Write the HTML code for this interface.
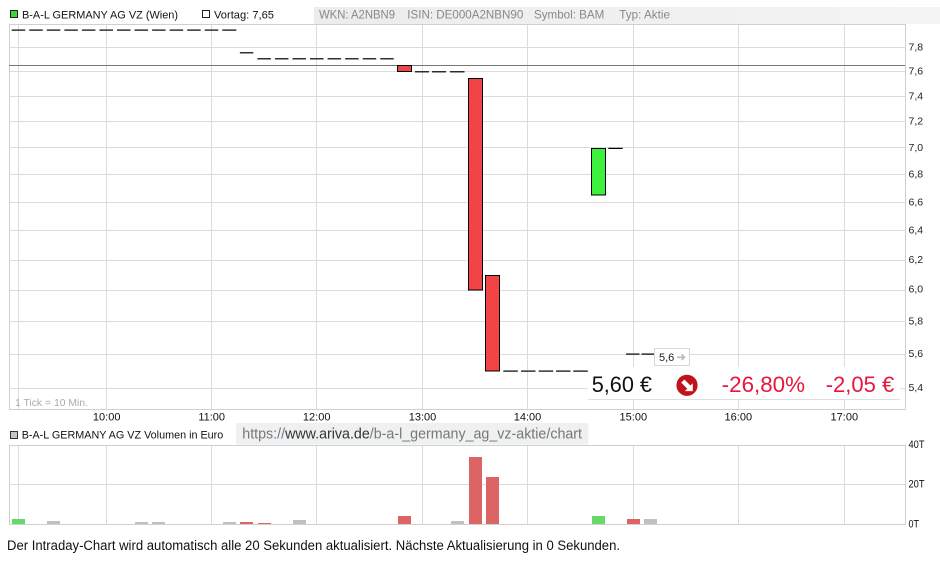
<!DOCTYPE html>
<html><head><meta charset="utf-8"><style>
html,body{margin:0;padding:0;background:#fff;width:940px;height:563px;overflow:hidden}
svg{display:block}
text{font-family:"Liberation Sans",Arial,sans-serif}
</style></head><body>
<svg width="940" height="563" viewBox="0 0 940 563" xmlns="http://www.w3.org/2000/svg">
<defs>
<linearGradient id="hg" x1="0" x2="1" y1="0" y2="0"><stop offset="0" stop-color="#ececec"/><stop offset="1" stop-color="#f4f4f4"/></linearGradient>
</defs>
<!-- header -->
<rect x="314" y="7" width="626" height="17" fill="url(#hg)"/>
<rect x="10.5" y="10.5" width="7" height="7" fill="#3ed43e" stroke="#222" stroke-width="1"/>
<text x="22" y="18.3" font-size="11" fill="#111" textLength="156" lengthAdjust="spacingAndGlyphs">B-A-L GERMANY AG VZ (Wien)</text>
<rect x="202.5" y="10.5" width="7" height="7" fill="#fff" stroke="#222" stroke-width="1"/>
<text x="214" y="18.3" font-size="11" fill="#111" textLength="60" lengthAdjust="spacingAndGlyphs">Vortag: 7,65</text>
<g font-size="12" fill="#888">
<text x="319" y="18.5" textLength="76" lengthAdjust="spacingAndGlyphs">WKN: A2NBN9</text>
<text x="407.3" y="18.5" textLength="116" lengthAdjust="spacingAndGlyphs">ISIN: DE000A2NBN90</text>
<text x="534" y="18.5" textLength="70.3" lengthAdjust="spacingAndGlyphs">Symbol: BAM</text>
<text x="619.3" y="18.5" textLength="50.7" lengthAdjust="spacingAndGlyphs">Typ: Aktie</text>
</g>

<!-- main grid -->
<g stroke="#dcdcdc" stroke-width="1" fill="none">
<path d="M9 47.5H905M9 71.5H905M9 96.5H905M9 121.5H905M9 147.5H905M9 174.5H905M9 202.5H905M9 230.5H905M9 260.5H905M9 290.5H905M9 321.5H905M9 354.5H905M9 388.5H905"/>
<path d="M18.5 24V409M106.5 24V409M211.5 24V409M316.5 24V409M422.5 24V409M527.5 24V409M633.5 24V409M738.5 24V409M844.5 24V409"/>
</g>
<g stroke="#d0d0d0" stroke-width="1" fill="none">
<path d="M9.5 24V409.5H905.5V24M9 24.5H905"/>
</g>
<!-- previous close line -->
<path d="M9 65.5H905" stroke="#777" stroke-width="1"/>

<!-- dashes -->
<g fill="#000">
<rect x="11.7" y="29.5" width="13.5" height="1.2"/>
<rect x="29.25" y="29.5" width="13.5" height="1.2"/>
<rect x="46.8" y="29.5" width="13.5" height="1.2"/>
<rect x="64.35" y="29.5" width="13.5" height="1.2"/>
<rect x="81.9" y="29.5" width="13.5" height="1.2"/>
<rect x="99.45" y="29.5" width="13.5" height="1.2"/>
<rect x="117" y="29.5" width="13.5" height="1.2"/>
<rect x="134.55" y="29.5" width="13.5" height="1.2"/>
<rect x="152.1" y="29.5" width="13.5" height="1.2"/>
<rect x="169.65" y="29.5" width="13.5" height="1.2"/>
<rect x="187.2" y="29.5" width="13.5" height="1.2"/>
<rect x="204.75" y="29.5" width="13.5" height="1.2"/>
<rect x="222.3" y="29.5" width="14" height="1.2"/>
<rect x="239.85" y="52.2" width="13.5" height="1.2"/>
<rect x="257.4" y="58.2" width="13.5" height="1.2"/>
<rect x="274.95" y="58.2" width="13.5" height="1.2"/>
<rect x="292.5" y="58.2" width="13.5" height="1.2"/>
<rect x="310.05" y="58.2" width="13.5" height="1.2"/>
<rect x="327.6" y="58.2" width="13.5" height="1.2"/>
<rect x="345.15" y="58.2" width="13.5" height="1.2"/>
<rect x="362.7" y="58.2" width="13.5" height="1.2"/>
<rect x="380.25" y="58.2" width="13.5" height="1.2"/>
<rect x="415" y="71.2" width="14" height="1.2"/>
<rect x="432" y="71.2" width="14" height="1.2"/>
<rect x="450" y="71.2" width="14.5" height="1.2"/>
<rect x="503.3" y="370.5" width="14.5" height="1.2"/>
<rect x="521" y="370.5" width="14.5" height="1.2"/>
<rect x="538.7" y="370.5" width="14.5" height="1.2"/>
<rect x="556" y="370.5" width="14.5" height="1.2"/>
<rect x="573.3" y="370.5" width="14.5" height="1.2"/>
<rect x="608.3" y="147.8" width="14.4" height="1.2"/>
<rect x="626" y="353.5" width="13.5" height="1.2"/>
<rect x="641.5" y="353.5" width="13" height="1.2"/>
</g>
<!-- candles -->
<g stroke="#000" stroke-width="1">
<rect x="397.5" y="65.5" width="14" height="6" fill="#f24444"/>
<rect x="468.5" y="78.5" width="14" height="211.5" fill="#f24444"/>
<rect x="485.5" y="275.5" width="14" height="95.5" fill="#f24444"/>
<rect x="591.5" y="148.5" width="14" height="46.5" fill="#3ef03e"/>
</g>

<!-- 5,6 marker box -->
<rect x="654.5" y="348.5" width="35" height="17" fill="#fff" stroke="#d8d8d8" stroke-width="1"/>
<text x="659" y="361" font-size="11" fill="#222">5,6</text>
<path d="M677 357.3H684M681.5 354.5L684.5 357.3L681.5 360" stroke="#bbb" stroke-width="1.6" fill="none"/>

<!-- price box -->
<rect x="588" y="367" width="312" height="32" fill="#fff"/>
<path d="M588 399.5H900" stroke="#e0e0e0" stroke-width="1"/>
<text x="591.7" y="392" font-size="22" fill="#111" textLength="60.3" lengthAdjust="spacingAndGlyphs">5,60 €</text>
<circle cx="687" cy="385.3" r="10.6" fill="#c0141c"/>
<polygon transform="translate(687 385.3) scale(1.05)" fill="#fff" points="-5.5,-2.5 0.25,3.25 -2,5.5 5.5,5.5 5.5,-2 3.25,0.25 -2.5,-5.5"/>
<text x="721.7" y="392" font-size="22" fill="#e8163c" textLength="83.3" lengthAdjust="spacingAndGlyphs">-26,80%</text>
<text x="825.7" y="392" font-size="22" fill="#e8163c" textLength="68.6" lengthAdjust="spacingAndGlyphs">-2,05 €</text>

<text x="15" y="406" font-size="10" fill="#aaa" textLength="73" lengthAdjust="spacingAndGlyphs">1 Tick = 10 Min.</text>

<!-- y labels -->
<g font-size="10.5" fill="#222" dominant-baseline="central">
<text x="908.5" y="47.5">7,8</text>
<text x="908.5" y="71.7">7,6</text>
<text x="908.5" y="96.5">7,4</text>
<text x="908.5" y="121.5">7,2</text>
<text x="908.5" y="147.8">7,0</text>
<text x="908.5" y="174.3">6,8</text>
<text x="908.5" y="202.5">6,6</text>
<text x="908.5" y="230.7">6,4</text>
<text x="908.5" y="260">6,2</text>
<text x="908.5" y="289.5">6,0</text>
<text x="908.5" y="321.7">5,8</text>
<text x="908.5" y="354">5,6</text>
<text x="908.5" y="388">5,4</text>
</g>

<!-- x labels -->
<g font-size="11" fill="#111" text-anchor="middle">
<text x="106.7" y="420.7">10:00</text>
<text x="211.7" y="420.7">11:00</text>
<text x="316.7" y="420.7">12:00</text>
<text x="422.5" y="420.7">13:00</text>
<text x="527.5" y="420.7">14:00</text>
<text x="633.3" y="420.7">15:00</text>
<text x="738.3" y="420.7">16:00</text>
<text x="844.3" y="420.7">17:00</text>
</g>

<!-- volume legend + url -->
<rect x="10.5" y="431.5" width="7" height="7" fill="#c4c4c4" stroke="#333" stroke-width="1"/>
<text x="21.7" y="438.7" font-size="11" fill="#111" textLength="201.6" lengthAdjust="spacingAndGlyphs">B-A-L GERMANY AG VZ Volumen in Euro</text>
<rect x="236" y="423" width="352.3" height="21.5" fill="#eef0f2"/>
<text x="242.3" y="438.5" font-size="15" fill="#777" textLength="339.7" lengthAdjust="spacingAndGlyphs">https://<tspan fill="#333">www.ariva.de</tspan>/b-a-l_germany_ag_vz-aktie/chart</text>

<!-- volume chart -->
<g stroke="#dcdcdc" stroke-width="1" fill="none">
<path d="M9 484.5H905"/>
<path d="M18.5 445V524M106.5 445V524M211.5 445V524M316.5 445V524M422.5 445V524M527.5 445V524M633.5 445V524M738.5 445V524M844.5 445V524"/>
</g>
<g stroke="#d0d0d0" stroke-width="1" fill="none">
<path d="M9.5 445V524.5H905.5V445M9 445.5H905"/>
</g>
<g>
<rect x="12" y="519" width="13" height="5" fill="#66d966"/>
<rect x="47" y="521" width="13" height="3" fill="#c0c0c0"/>
<rect x="135" y="522" width="13" height="2" fill="#c0c0c0"/>
<rect x="152" y="522" width="13" height="2" fill="#c0c0c0"/>
<rect x="223" y="522" width="13" height="2" fill="#c0c0c0"/>
<rect x="240" y="522" width="13" height="2" fill="#dc6464"/>
<rect x="258" y="523" width="13" height="1" fill="#dc6464"/>
<rect x="293" y="520" width="13" height="4" fill="#c0c0c0"/>
<rect x="398" y="516" width="13" height="8" fill="#dc6464"/>
<rect x="451" y="521" width="13" height="3" fill="#c0c0c0"/>
<rect x="469" y="457" width="13" height="67" fill="#dc6464"/>
<rect x="486" y="477" width="13" height="47" fill="#dc6464"/>
<rect x="592" y="516" width="13" height="8" fill="#66d966"/>
<rect x="627" y="519" width="13" height="5" fill="#dc6464"/>
<rect x="644" y="519" width="13" height="5" fill="#c0c0c0"/>
</g>
<g font-size="11" fill="#111" dominant-baseline="central">
<text x="908.5" y="445" textLength="16" lengthAdjust="spacingAndGlyphs">40T</text>
<text x="908.5" y="484.3" textLength="16" lengthAdjust="spacingAndGlyphs">20T</text>
<text x="908.5" y="524.3" textLength="10.5" lengthAdjust="spacingAndGlyphs">0T</text>
</g>

<!-- footer -->
<text x="7" y="550" font-size="13.5" fill="#111" textLength="613" lengthAdjust="spacingAndGlyphs">Der Intraday-Chart wird automatisch alle 20 Sekunden aktualisiert. Nächste Aktualisierung in 0 Sekunden.</text>
</svg>
</body></html>
